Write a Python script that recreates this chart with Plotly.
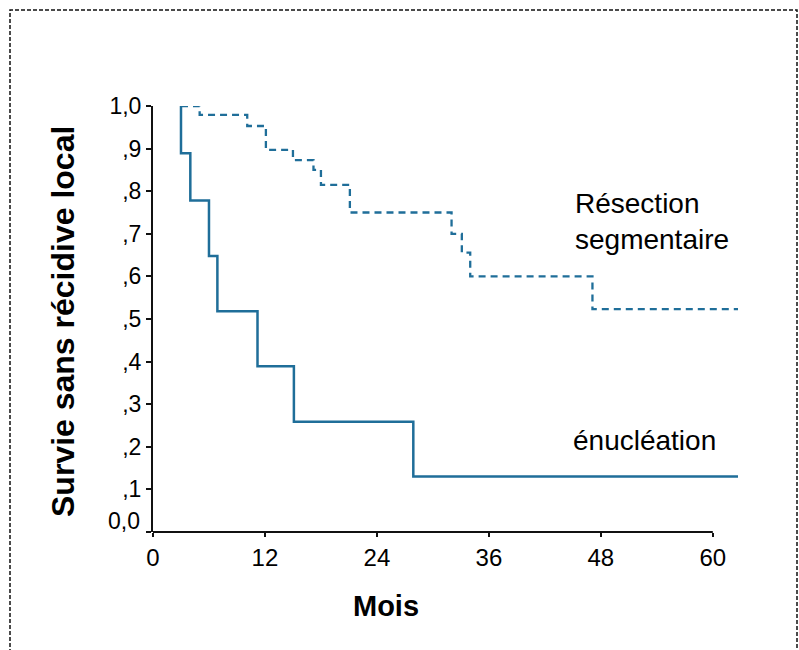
import plotly.graph_objects as go

# ---- data ----
months_enucleation = [3.0, 3.0, 4.0, 4.0, 6.0, 6.0, 6.9, 6.9, 11.2, 11.2, 15.1, 15.1, 27.9, 27.9, 62.7]
surv_enucleation = [1.0, 0.889, 0.889, 0.778, 0.778, 0.648, 0.648, 0.518, 0.518, 0.389, 0.389, 0.259, 0.259, 0.130, 0.130]

months_resection = [3.0, 5.0, 5.0, 10.1, 10.1, 12.1, 12.1, 15.0, 15.0, 17.2, 17.2, 18.0, 18.0, 21.1, 21.1,
                    32.0, 32.0, 33.1, 33.1, 34.0, 34.0, 47.1, 47.1, 62.7]
surv_resection = [1.0, 1.0, 0.979, 0.979, 0.953, 0.953, 0.897, 0.897, 0.873, 0.873, 0.850, 0.850, 0.815, 0.815, 0.750,
                  0.750, 0.700, 0.700, 0.656, 0.656, 0.600, 0.600, 0.523, 0.523]

x_ticks = [0, 12, 24, 36, 48, 60]
y_ticks = [0.0, 0.1, 0.2, 0.3, 0.4, 0.5, 0.6, 0.7, 0.8, 0.9, 1.0]
y_ticktext = ["", ",1", ",2", ",3", ",4", ",5", ",6", ",7", ",8", ",9", "1,0"]

label_resection = "Résection<br>segmentaire"
label_enucleation = "énucléation"

# ---- layout constants (pixels) ----
W, H = 799, 650
L, R, T, B = 153, 61, 106, 118
pw, ph = W - L - R, H - T - B

def px_to_paper_x(px):
    return (px - L) / pw

def px_to_paper_y(py):
    return (H - B - py) / ph

COL = "#1f6e99"
TXT = "#000000"
FONT = "Liberation Sans, Arial, Helvetica, sans-serif"

fig = go.Figure()
fig.add_trace(go.Scatter(x=months_resection, y=surv_resection, mode="lines",
                         line=dict(color=COL, width=2.3, dash="7px,5px"), hoverinfo="skip"))
fig.add_trace(go.Scatter(x=months_enucleation, y=surv_enucleation, mode="lines",
                         line=dict(color=COL, width=2.5), hoverinfo="skip"))

fig.update_layout(
    width=W, height=H,
    margin=dict(l=L, r=R, t=T, b=B),
    paper_bgcolor="white", plot_bgcolor="white",
    showlegend=False,
    font=dict(family=FONT, color=TXT),
    xaxis=dict(range=[0, 62.7], tickvals=x_ticks, ticktext=[str(v) for v in x_ticks],
               showgrid=False, zeroline=False, showline=False,
               ticks="outside", ticklen=4, tickwidth=2, tickcolor="#111",
               tickfont=dict(size=24, color=TXT, family=FONT)),
    yaxis=dict(range=[0, 1.0], tickvals=y_ticks, ticktext=y_ticktext,
               showgrid=False, zeroline=False, showline=True, linecolor="#111", linewidth=2,
               ticks="outside", ticklen=5, tickwidth=2, tickcolor="#111",
               tickfont=dict(size=23, color=TXT, family=FONT)),
)

# x axis line only up to 60
fig.add_shape(type="line", xref="x", yref="paper", x0=0, x1=60, y0=0, y1=0,
              line=dict(color="#111", width=2))

# dashed frame around the whole picture
fig.add_shape(type="rect", xref="paper", yref="paper",
              x0=px_to_paper_x(10), x1=px_to_paper_x(797),
              y0=px_to_paper_y(653), y1=px_to_paper_y(10),
              line=dict(color="#111", width=1.5, dash="4px,2px"), layer="above")

# "0,0" label slightly raised as in the reference
fig.add_annotation(x=0, y=0, xref="paper", yref="y", text="0,0", showarrow=False,
                   xanchor="right", yanchor="middle", xshift=-11, yshift=11,
                   font=dict(size=23, color=TXT, family=FONT))

fig.add_annotation(x=45.0, y=0.73, xref="x", yref="y", text=label_resection, showarrow=False,
                   xanchor="left", yanchor="middle", align="left",
                   font=dict(size=28, color=TXT, family=FONT))
fig.add_annotation(x=44.8, y=0.214, xref="x", yref="y", text=label_enucleation, showarrow=False,
                   xanchor="left", yanchor="middle", align="left",
                   font=dict(size=28, color=TXT, family=FONT))

# axis titles
fig.add_annotation(x=px_to_paper_x(386), y=px_to_paper_y(606), xref="paper", yref="paper",
                   text="<b>Mois</b>", showarrow=False, xanchor="center", yanchor="middle",
                   font=dict(size=29, color=TXT, family=FONT))
fig.add_annotation(x=px_to_paper_x(63), y=px_to_paper_y(322), xref="paper", yref="paper",
                   text="<b>Survie sans récidive local</b>", showarrow=False, textangle=-90,
                   xanchor="center", yanchor="middle",
                   font=dict(size=32, color=TXT, family=FONT))

fig.write_html("out.html")
